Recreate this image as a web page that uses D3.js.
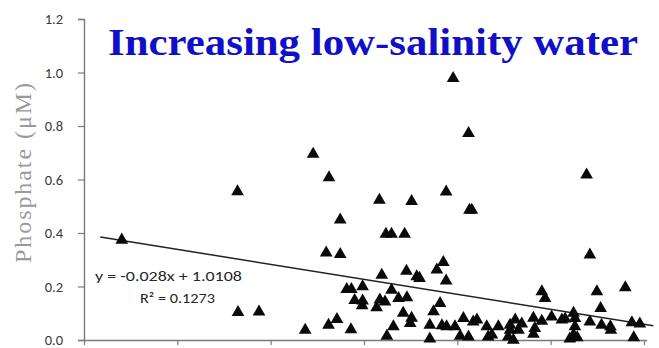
<!DOCTYPE html>
<html>
<head>
<meta charset="utf-8">
<script src="https://cdn.jsdelivr.net/npm/d3@7"></script>
<style>
  html, body { margin: 0; padding: 0; background: #fff; }
  svg { display: block; }
</style>
</head>
<body>
<svg id="chart" width="659" height="348"></svg>
<script>
// Salinity (x) and phosphate concentration (y, µM) for each sample
const salinity = [
  22.81, 25.29, 25.30, 25.75, 26.91, 27.25, 27.49, 27.19, 27.49, 26.74,
  27.24, 27.42, 27.72, 27.63, 27.73, 27.97, 27.80, 27.97, 27.96, 28.33,
  28.47, 28.59, 28.87, 29.02, 28.38, 28.91, 28.59, 28.34, 28.45, 28.27,
  28.74, 28.92, 28.84, 29.02, 29.13, 29.19, 29.56, 29.70, 29.76, 29.76,
  29.91, 30.24, 30.26, 30.31, 29.49, 29.63, 28.63, 28.49, 28.99, 29.41,
  29.67, 29.77, 29.95, 29.41, 30.06, 30.13, 30.24, 30.34, 30.42, 30.63,
  30.66, 30.88, 30.74, 31.13, 31.24, 31.38, 31.13, 31.31, 31.09, 31.20,
  31.63, 31.66, 31.81, 31.63, 31.81, 31.88, 32.02, 32.24, 32.31, 32.49,
  32.52, 32.49, 32.41, 32.57, 32.52, 32.77, 32.84, 32.99, 33.07, 32.84,
  33.09, 33.28, 33.29, 33.60, 33.74, 33.91, 33.78
];
const phosphate = [
  0.374, 0.555, 0.103, 0.105, 0.695, 0.607, 0.449, 0.326, 0.320, 0.037,
  0.056, 0.077, 0.039, 0.189, 0.189, 0.200, 0.148, 0.146, 0.129, 0.523,
  0.396, 0.396, 0.396, 0.518, 0.243, 0.258, 0.187, 0.150, 0.143, 0.121,
  0.156, 0.159, 0.101, 0.082, 0.237, 0.231, 0.262, 0.290, 0.221, 0.554,
  0.978, 0.773, 0.486, 0.486, 0.106, 0.137, 0.050, 0.015, 0.062, 0.056,
  0.054, 0.050, 0.050, 0.004, 0.015, 0.081, 0.012, 0.068, 0.075, 0.050,
  0.012, 0.050, 0.019, 0.056, 0.075, 0.060, 0.037, 0.037, 0.012, 0.000,
  0.082, 0.044, 0.071, 0.022, 0.181, 0.156, 0.087, 0.075, 0.079, 0.101,
  0.050, 0.019, 0.004, 0.009, 0.081, 0.617, 0.318, 0.181, 0.118, 0.068,
  0.056, 0.050, 0.037, 0.196, 0.065, 0.060, 0.009
];

// Linear fit reported on the chart
const trendSlope = -0.028;
const trendIntercept = 1.0108;
const trendExtent = [22.35, 34.2];
const equationLines = ["y = -0.028x + 1.0108", "R² = 0.1273"];

const xTicks = [22, 24, 26, 28, 30, 32, 34];
const yTicks = [0.0, 0.2, 0.4, 0.6, 0.8, 1.0, 1.2];

const titleText = "Increasing low-salinity water";
const yLabel = "Phosphate  (μM)";

const svg = d3.select("#chart");
const plotLeft = 84, plotRight = 644, plotTop = 19, plotBottom = 340;
const sansFont = "Carlito, 'Liberation Sans', Arial, sans-serif";
const serifFont = "'Liberation Serif', 'Times New Roman', serif";

const x = d3.scaleLinear().domain([22, 34]).range([plotLeft, plotRight]);
const y = d3.scaleLinear().domain([0, 1.2]).range([plotBottom, plotTop]);

// Y axis
const yAxis = svg.append("g")
  .attr("transform", `translate(${plotLeft},0)`)
  .call(d3.axisLeft(y).tickValues(yTicks).tickFormat(d3.format(".1f")).tickSize(6).tickPadding(15));
yAxis.select(".domain").attr("stroke", "#7a7a7a").attr("stroke-width", 1.4);
yAxis.selectAll(".tick line").attr("stroke", "#7a7a7a").attr("stroke-width", 1.2);
yAxis.selectAll(".tick text")
  .attr("font-family", sansFont)
  .attr("font-size", 14.5)
  .attr("fill", "#3a3a3a");

// X axis (labels fall below the visible area)
const xAxis = svg.append("g")
  .attr("transform", `translate(0,${plotBottom})`)
  .call(d3.axisBottom(x).tickValues(xTicks).tickFormat("").tickSize(5).tickSizeOuter(0));
xAxis.select(".domain").attr("stroke", "#7a7a7a").attr("stroke-width", 1.4)
  .attr("d", `M${plotLeft},0.5H${plotRight + 3}`);
xAxis.selectAll(".tick line").attr("stroke", "#7a7a7a").attr("stroke-width", 1.2);

// Trend line
svg.append("line")
  .attr("x1", x(trendExtent[0])).attr("y1", y(trendSlope * trendExtent[0] + trendIntercept))
  .attr("x2", x(trendExtent[1])).attr("y2", y(trendSlope * trendExtent[1] + trendIntercept))
  .attr("stroke", "#222").attr("stroke-width", 1.5);

// Sample markers
const tri = d3.symbol().type(d3.symbolTriangle).size(70);
svg.append("g").selectAll("path")
  .data(salinity.map((s, i) => [s, phosphate[i]]))
  .join("path")
  .attr("d", tri)
  .attr("transform", d => `translate(${x(d[0])},${y(d[1])})`)
  .attr("fill", "#0a0a0a");

// Regression equation
svg.append("text")
  .attr("x", 95).attr("y", 281)
  .attr("font-family", sansFont)
  .attr("font-size", 14.5).attr("fill", "#262626")
  .attr("textLength", 147).attr("lengthAdjust", "spacingAndGlyphs")
  .text(equationLines[0]);
svg.append("text")
  .attr("x", 140).attr("y", 303)
  .attr("font-family", sansFont)
  .attr("font-size", 14.5).attr("fill", "#262626")
  .attr("textLength", 75).attr("lengthAdjust", "spacingAndGlyphs")
  .text(equationLines[1]);

// Y axis title
svg.append("text")
  .attr("transform", `translate(31,173) rotate(-90)`)
  .attr("text-anchor", "middle")
  .attr("font-family", serifFont)
  .attr("font-size", 24).attr("fill", "#9a9a9a")
  .attr("textLength", 180).attr("lengthAdjust", "spacing")
  .text(yLabel);

// Chart title
svg.append("text")
  .attr("x", 108).attr("y", 55)
  .attr("font-family", serifFont)
  .attr("font-weight", "bold")
  .attr("font-size", 37).attr("fill", "#1010c8")
  .attr("textLength", 530).attr("lengthAdjust", "spacingAndGlyphs")
  .text(titleText);
</script>
</body>
</html>
